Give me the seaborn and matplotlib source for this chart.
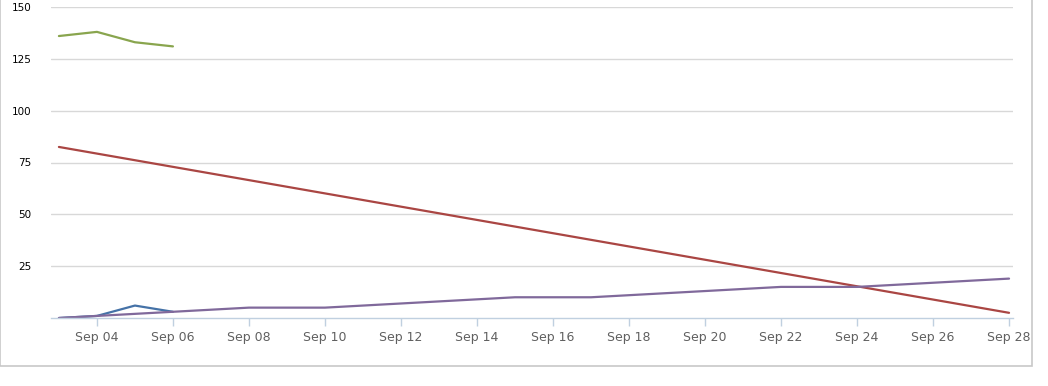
import pandas as pd
import numpy as np
import matplotlib
matplotlib.use("Agg")
import matplotlib.pyplot as plt
import matplotlib.dates as mdates
import seaborn as sns
from matplotlib.patches import Rectangle

# series values
green_dates = ["2013-09-03", "2013-09-04", "2013-09-05", "2013-09-06"]
green_vals = [136, 138, 133, 131]

blue_dates = ["2013-09-03", "2013-09-04", "2013-09-05", "2013-09-06"]
blue_vals = [0, 1, 6, 3]

red_dates = ["2013-09-03", "2013-09-28"]
red_vals = [82.5, 2.5]

purple_dates = ["2013-09-03", "2013-09-04", "2013-09-06", "2013-09-08", "2013-09-10",
                "2013-09-15", "2013-09-17", "2013-09-22", "2013-09-24", "2013-09-28"]
purple_vals = [0, 1, 3, 5, 5, 10, 10, 15, 15, 19]

y_ticks = [0, 25, 50, 75, 100, 125, 150]
y_labels = ["", "25", "50", "75", "100", "125", "150"]

frames = []
for name, d, v in [("blue", blue_dates, blue_vals), ("red", red_dates, red_vals),
                   ("green", green_dates, green_vals), ("purple", purple_dates, purple_vals)]:
    frames.append(pd.DataFrame({"date": pd.to_datetime(d), "value": v, "series": name}))
df = pd.concat(frames, ignore_index=True)

palette = {"blue": "#4572A7", "red": "#AA4643", "green": "#89A54E", "purple": "#80699B"}

sns.set_style("white")
plt.rcParams['font.family'] = ['DejaVu Sans']

fig = plt.figure(figsize=(10.48, 3.86), dpi=100)
ax = fig.add_axes([51 / 1048, 1 - 318 / 386, (1013 - 51) / 1048, (318 - 7) / 386])

sns.lineplot(data=df, x="date", y="value", hue="series", palette=palette,
             linewidth=1.6, legend=False, ax=ax)

ax.set_xlim(pd.Timestamp("2013-09-02 19:00"), pd.Timestamp("2013-09-28 02:30"))
ax.set_ylim(0, 150)
ax.set_yticks(y_ticks)
ax.set_yticklabels(y_labels)
ax.xaxis.set_major_locator(mdates.DayLocator(bymonthday=range(4, 29, 2)))
ax.xaxis.set_major_formatter(mdates.DateFormatter("%b %d"))
ax.set_xlabel("")
ax.set_ylabel("")

for y in y_ticks[1:]:
    ax.axhline(y, color="#D8D8D8", linewidth=1, zorder=0)

for s in ["top", "right", "left"]:
    ax.spines[s].set_visible(False)
ax.spines["bottom"].set_color("#C0D0E0")
ax.spines["bottom"].set_linewidth(1)

ax.tick_params(axis="x", bottom=True, colors="#C0D0E0", length=6, width=1, direction="out",
               labelsize=9, labelcolor="#606060", pad=3)
ax.tick_params(axis="y", left=False, length=0, labelsize=7.5, labelcolor="black", pad=14)

# outer frame
fig.patches.append(Rectangle((0, 1 - 366 / 386), 1032 / 1048, 366 / 386 + 0.01,
                             transform=fig.transFigure, fill=False,
                             edgecolor="#C8C8C8", linewidth=1.2))

fig.savefig("out.png", dpi=100)
